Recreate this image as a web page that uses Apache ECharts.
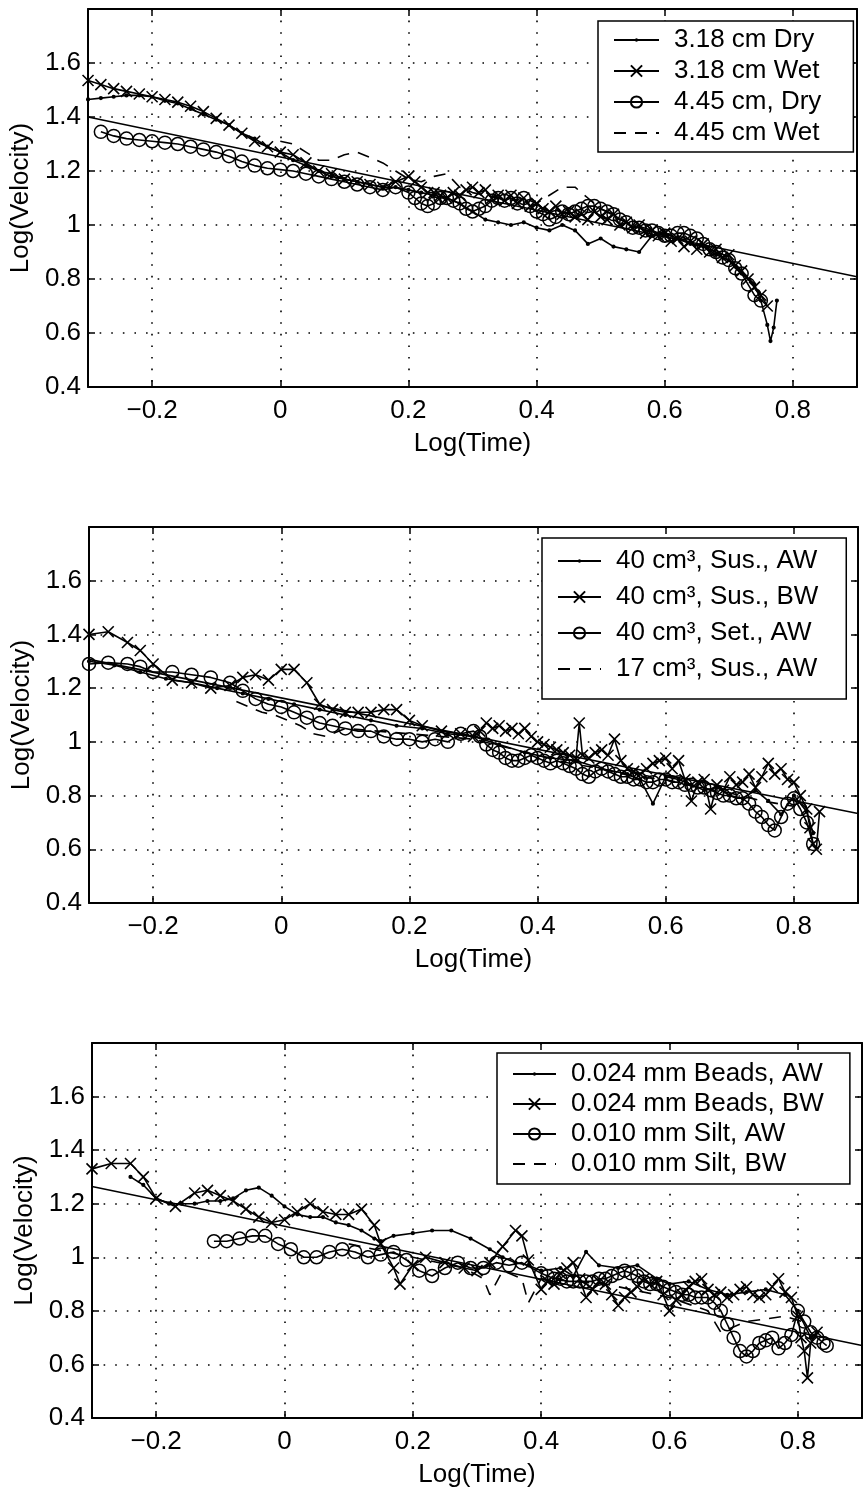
<!DOCTYPE html>
<html><head><meta charset="utf-8">
<script src="https://cdn.jsdelivr.net/npm/echarts@6/dist/echarts.min.js"></script>
<style>html,body{margin:0;padding:0;background:#fff}#c{width:865px;height:1494px}</style>
</head><body><div id="c"></div>
<script>
// ---------- tick labels ----------
const xTicks = [-0.2, 0, 0.2, 0.4, 0.6, 0.8];
const yTicks = [0.4, 0.6, 0.8, 1.0, 1.2, 1.4, 1.6];

// ---------- Panel 1 ----------
const p1Names = ['3.18 cm Dry', '3.18 cm Wet', '4.45 cm, Dry', '4.45 cm Wet'];
const p1aX = [-0.3,-0.28,-0.26,-0.24,-0.22,-0.2,-0.18,-0.16,-0.14,-0.12,-0.1,-0.08,-0.06,-0.04,-0.02,0,0.02,0.04,0.06,0.08,0.1,0.12,0.14,0.16,0.18,0.2,0.22,0.24,0.26,0.28,0.3,0.32,0.34,0.36,0.38,0.4,0.42,0.44,0.46,0.48,0.5,0.52,0.54,0.56,0.58,0.6,0.62,0.64,0.66,0.68,0.7,0.72,0.74,0.75,0.76,0.765,0.77,0.775];
const p1aY = [1.465,1.47,1.475,1.48,1.48,1.475,1.46,1.45,1.43,1.41,1.39,1.37,1.34,1.32,1.29,1.27,1.24,1.22,1.20,1.18,1.17,1.16,1.15,1.14,1.14,1.13,1.12,1.11,1.10,1.08,1.05,1.02,1.01,1.00,1.01,0.99,0.98,1.00,0.98,0.93,0.95,0.92,0.91,0.90,0.96,0.97,0.95,0.93,0.92,0.89,0.87,0.82,0.78,0.72,0.63,0.57,0.62,0.72];
const p1bX = [-0.3,-0.28,-0.26,-0.24,-0.22,-0.2,-0.18,-0.16,-0.14,-0.12,-0.1,-0.08,-0.06,-0.04,-0.02,0,0.02,0.04,0.06,0.08,0.1,0.12,0.14,0.16,0.18,
  0.2,0.21,0.22,0.23,0.24,0.25,0.26,0.27,0.28,0.29,0.3,0.31,0.32,0.33,0.34,0.35,0.36,0.37,0.38,0.39,0.4,0.41,0.42,0.43,0.44,0.45,0.46,0.47,0.48,0.49,0.5,0.51,0.52,0.53,0.54,0.55,0.56,0.57,0.58,0.59,0.6,0.61,0.62,0.63,0.64,0.65,0.66,0.67,0.68,0.69,0.7,0.71,0.72,0.73,0.74,0.75,0.76];
const p1bY = [1.535,1.52,1.505,1.495,1.485,1.475,1.465,1.455,1.44,1.42,1.395,1.37,1.34,1.31,1.29,1.27,1.26,1.23,1.20,1.19,1.17,1.16,1.15,1.14,1.16,
  1.18,1.16,1.14,1.12,1.12,1.11,1.10,1.12,1.11,1.13,1.14,1.12,1.13,1.10,1.11,1.09,1.11,1.08,1.10,1.07,1.08,1.06,1.05,1.07,1.04,1.05,1.03,1.04,1.02,1.05,1.03,1.02,1.04,1.00,1.01,0.99,1.00,0.97,0.98,0.96,0.97,0.94,0.95,0.92,0.94,0.91,0.93,0.90,0.91,0.88,0.89,0.85,0.83,0.80,0.77,0.74,0.70];
const p1cX = [-0.28,-0.26,-0.24,-0.22,-0.2,-0.18,-0.16,-0.14,-0.12,-0.1,-0.08,-0.06,-0.04,-0.02,0,0.02,0.04,0.06,0.08,0.1,0.12,0.14,0.16,0.18,
  0.2,0.21,0.22,0.23,0.24,0.25,0.26,0.27,0.28,0.29,0.3,0.31,0.32,0.33,0.34,0.35,0.36,0.37,0.38,0.39,0.4,0.41,0.42,0.43,0.44,0.45,0.46,0.47,0.48,0.49,0.5,0.51,0.52,0.53,0.54,0.55,0.56,0.57,0.58,0.59,0.6,0.61,0.62,0.63,0.64,0.65,0.66,0.67,0.68,0.69,0.7,0.71,0.72,0.73,0.74,0.75];
const p1cY = [1.345,1.33,1.32,1.315,1.31,1.305,1.30,1.29,1.28,1.27,1.255,1.235,1.22,1.21,1.205,1.20,1.19,1.18,1.17,1.16,1.15,1.14,1.13,1.14,
  1.12,1.10,1.08,1.07,1.08,1.10,1.10,1.09,1.08,1.06,1.05,1.06,1.07,1.09,1.10,1.09,1.10,1.08,1.10,1.07,1.05,1.04,1.02,1.03,1.05,1.04,1.05,1.06,1.07,1.07,1.06,1.05,1.04,1.02,1.01,0.99,0.99,0.98,0.98,0.97,0.96,0.96,0.97,0.97,0.96,0.95,0.93,0.91,0.90,0.88,0.87,0.84,0.82,0.78,0.74,0.72];
const p1dX = [0,0.02,0.04,0.06,0.08,0.1,0.12,0.14,0.16,0.18,0.2,0.22,0.24,0.26,0.28,0.3,0.32,0.34,0.36,0.38,0.4,0.42,0.44,0.46,0.48,0.5,0.54,0.58,0.62,0.66,0.7,0.74];
const p1dY = [1.31,1.30,1.27,1.24,1.24,1.26,1.27,1.25,1.23,1.20,1.17,1.16,1.18,1.19,1.14,1.12,1.11,1.10,1.09,1.10,1.08,1.11,1.14,1.14,1.10,1.06,1.01,0.98,0.96,0.93,0.88,0.78];
const p1FitX = [-0.3, 0.9];
const p1FitY = [1.40, 0.808];

// ---------- Panel 2 ----------
const p2Names = ['40 cm³, Sus., AW', '40 cm³, Sus., BW', '40 cm³, Set., AW', '17 cm³, Sus., AW'];
const p2aX = [-0.3,-0.26,-0.22,-0.18,-0.14,-0.1,-0.06,-0.02,0.02,0.06,0.1,0.14,0.18,0.22,0.26,0.3,0.34,0.38,0.42,0.46,0.5,0.54,0.56,0.58,0.6,0.62,0.64,0.66,0.68,0.7,0.72,0.74,0.76,0.78,0.8,0.82,0.83];
const p2aY = [1.30,1.285,1.26,1.235,1.22,1.20,1.18,1.16,1.14,1.12,1.10,1.08,1.06,1.05,1.03,1.02,0.99,0.96,0.94,0.93,0.90,0.88,0.86,0.77,0.87,0.86,0.84,0.82,0.83,0.80,0.79,0.82,0.78,0.73,0.80,0.74,0.66];
const p2bX = [-0.3,-0.27,-0.24,-0.22,-0.2,-0.17,-0.14,-0.11,-0.08,-0.06,-0.04,-0.02,0,0.02,0.04,0.06,0.08,0.1,0.12,0.14,0.16,0.18,0.2,0.22,0.25,0.28,
  0.3,0.31,0.32,0.33,0.34,0.35,0.36,0.37,0.38,0.39,0.4,0.41,0.42,0.43,0.44,0.45,0.46,0.465,0.47,0.48,0.49,0.5,0.51,0.52,0.53,0.54,0.55,0.56,0.57,0.58,0.59,0.6,0.61,0.62,0.63,0.64,0.65,0.66,0.67,0.68,0.69,0.7,0.71,0.72,0.73,0.74,0.75,0.76,0.77,0.78,0.79,0.8,0.81,0.82,0.825,0.83,0.835,0.84];
const p2bY = [1.40,1.41,1.37,1.34,1.29,1.23,1.22,1.20,1.21,1.24,1.25,1.23,1.27,1.27,1.22,1.14,1.12,1.11,1.11,1.11,1.12,1.12,1.08,1.06,1.04,1.03,
  1.02,1.04,1.07,1.05,1.06,1.04,1.05,1.03,1.05,1.02,1.00,0.99,0.98,0.97,0.96,0.95,0.94,1.07,0.95,0.94,0.96,0.97,0.95,1.01,0.93,0.90,0.89,0.88,0.90,0.92,0.93,0.94,0.90,0.93,0.86,0.78,0.85,0.86,0.75,0.84,0.82,0.87,0.84,0.85,0.88,0.83,0.87,0.92,0.88,0.90,0.86,0.85,0.80,0.75,0.68,0.62,0.60,0.74];
const p2cX = [-0.3,-0.27,-0.24,-0.22,-0.2,-0.17,-0.14,-0.11,-0.08,-0.06,-0.04,-0.02,0,0.02,0.04,0.06,0.08,0.1,0.12,0.14,0.16,0.18,0.2,0.22,0.24,0.26,0.28,
  0.3,0.31,0.32,0.33,0.34,0.35,0.36,0.37,0.38,0.39,0.4,0.41,0.42,0.43,0.44,0.45,0.46,0.47,0.48,0.49,0.5,0.51,0.52,0.53,0.54,0.55,0.56,0.57,0.58,0.59,0.6,0.61,0.62,0.63,0.64,0.65,0.66,0.67,0.68,0.69,0.7,0.71,0.72,0.73,0.74,0.75,0.76,0.77,0.78,0.79,0.8,0.81,0.82,0.83];
const p2cY = [1.29,1.295,1.29,1.28,1.26,1.26,1.25,1.24,1.22,1.19,1.16,1.14,1.13,1.11,1.09,1.07,1.06,1.05,1.04,1.04,1.02,1.01,1.01,1.00,1.01,1.00,1.03,
  1.04,1.02,0.99,0.97,0.96,0.94,0.93,0.93,0.94,0.95,0.94,0.93,0.92,0.93,0.92,0.91,0.90,0.88,0.87,0.89,0.90,0.89,0.88,0.87,0.87,0.86,0.86,0.85,0.85,0.86,0.86,0.85,0.85,0.84,0.84,0.83,0.83,0.82,0.81,0.80,0.80,0.79,0.79,0.77,0.74,0.72,0.69,0.67,0.72,0.77,0.79,0.75,0.70,0.62];
const p2dX = [-0.07,-0.05,-0.03,-0.01,0.01,0.03,0.05,0.07,0.1,0.15,0.2,0.25,0.3,0.35,0.4,0.45,0.5,0.55,0.6,0.65,0.7,0.75,0.8];
const p2dY = [1.15,1.13,1.11,1.10,1.08,1.06,1.03,1.02,1.05,1.04,1.03,1.02,1.01,0.98,0.95,0.92,0.90,0.87,0.86,0.83,0.81,0.78,0.76];
const p2FitX = [-0.3, 0.9];
const p2FitY = [1.307, 0.733];

// ---------- Panel 3 ----------
const p3Names = ['0.024 mm Beads, AW', '0.024 mm Beads, BW', '0.010 mm Silt, AW', '0.010 mm Silt, BW'];
const p3aX = [-0.24,-0.22,-0.2,-0.18,-0.16,-0.14,-0.12,-0.1,-0.08,-0.06,-0.04,-0.02,0,0.02,0.04,0.06,0.08,0.1,0.12,0.14,0.15,0.17,0.2,0.23,0.26,0.29,0.32,0.34,0.36,0.38,0.4,0.43,0.45,0.47,0.49,0.52,0.55,0.58,0.6,0.63,0.66,0.69,0.72,0.75,0.78,0.8,0.82,0.83];
const p3aY = [1.30,1.27,1.22,1.20,1.20,1.20,1.21,1.21,1.22,1.25,1.26,1.23,1.19,1.16,1.15,1.15,1.13,1.12,1.10,1.07,1.06,1.08,1.09,1.10,1.10,1.07,1.03,1.00,0.98,0.97,0.95,0.96,0.93,1.02,0.97,0.96,0.97,0.92,0.90,0.91,0.88,0.86,0.87,0.88,0.86,0.80,0.70,0.72];
const p3bX = [-0.3,-0.27,-0.24,-0.22,-0.2,-0.17,-0.14,-0.12,-0.1,-0.08,-0.06,-0.04,-0.02,0,0.02,0.04,0.06,0.08,0.1,0.12,0.14,0.15,0.17,0.18,0.2,0.22,0.25,0.28,0.3,0.32,0.34,0.36,0.37,0.38,
  0.4,0.41,0.42,0.43,0.44,0.45,0.46,0.47,0.48,0.49,0.5,0.51,0.52,0.53,0.54,0.55,0.56,0.57,0.58,0.59,0.6,0.61,0.62,0.63,0.64,0.65,0.66,0.67,0.68,0.69,0.7,0.71,0.72,0.73,0.74,0.75,0.76,0.77,0.78,0.79,0.8,0.805,0.81,0.815,0.82,0.83];
const p3bY = [1.33,1.35,1.35,1.30,1.22,1.19,1.24,1.25,1.23,1.21,1.18,1.15,1.13,1.14,1.17,1.20,1.17,1.16,1.16,1.18,1.12,1.05,0.96,0.90,0.97,1.00,0.98,0.96,0.95,0.98,1.04,1.10,1.08,0.99,
  0.88,0.91,0.90,0.94,0.96,0.98,0.92,0.85,0.88,0.91,0.90,0.86,0.82,0.85,0.87,0.89,0.92,0.90,0.91,0.86,0.80,0.84,0.86,0.89,0.91,0.92,0.88,0.86,0.87,0.85,0.86,0.88,0.89,0.86,0.85,0.86,0.89,0.92,0.87,0.85,0.78,0.70,0.65,0.55,0.68,0.72];
const p3cX = [-0.11,-0.09,-0.07,-0.05,-0.03,-0.01,0.01,0.03,0.05,0.07,0.09,0.11,0.13,0.15,0.17,0.19,0.21,0.23,0.25,0.27,0.29,0.31,0.33,0.35,0.37,
  0.4,0.41,0.42,0.43,0.44,0.45,0.46,0.47,0.48,0.49,0.5,0.51,0.52,0.53,0.54,0.55,0.56,0.57,0.58,0.59,0.6,0.61,0.62,0.63,0.64,0.65,0.66,0.67,0.68,0.69,0.7,0.71,0.72,0.73,0.74,0.75,0.76,0.77,0.78,0.79,0.8,0.81,0.82,0.83,0.84,0.845];
const p3cY = [1.06,1.06,1.07,1.08,1.08,1.05,1.03,1.00,1.00,1.02,1.03,1.02,1.00,1.01,1.02,0.99,0.95,0.93,0.96,0.98,0.96,0.96,0.98,0.97,0.98,
  0.94,0.93,0.92,0.92,0.91,0.91,0.91,0.91,0.91,0.92,0.92,0.93,0.94,0.95,0.94,0.93,0.91,0.90,0.90,0.89,0.88,0.87,0.86,0.86,0.85,0.85,0.85,0.83,0.80,0.75,0.70,0.65,0.63,0.65,0.68,0.69,0.70,0.66,0.68,0.71,0.80,0.76,0.72,0.70,0.68,0.67];
const p3dX = [0.1,0.2,0.28,0.31,0.32,0.34,0.37,0.38,0.4,0.5,0.6,0.66,0.68,0.72,0.78,0.82];
const p3dY = [1.05,1.00,0.96,0.92,0.86,0.95,0.92,0.83,0.92,0.90,0.85,0.80,0.72,0.76,0.78,0.75];
const p3FitX = [-0.3, 0.9];
const p3FitY = [1.264, 0.671];

// ---------- build ----------
const FONT = 'Liberation Sans, Arial, Helvetica, sans-serif';
const FS = 26;
const pts = (xs, ys) => xs.map((x, i) => [x, ys[i]]);
const xFmt = v => (v < 0 ? '\u2212' + String(Math.abs(v)) : String(v));
const yFmt = v => String(Math.round(v * 10) / 10);
const gridLine = { show: true, lineStyle: { color: '#000', width: 1.6, type: [1.6, 10] } };
const axLine = { show: true, onZero: false, lineStyle: { color: '#000', width: 2 } };
const tick = { show: true, inside: true, length: 7, lineStyle: { color: '#000', width: 1.5 } };

const grids = [
  { left: 88, top: 9, width: 769, height: 378 },
  { left: 89, top: 527, width: 769, height: 376 },
  { left: 92, top: 1043, width: 770, height: 375 }
];
const xAxes = [], yAxes = [];
grids.forEach((g, gi) => {
  xAxes.push({ type: 'value', gridIndex: gi, position: 'bottom', min: -0.3, max: 0.9,
    axisLine: axLine, axisTick: Object.assign({ customValues: xTicks }, tick),
    axisLabel: { customValues: xTicks, formatter: xFmt, fontSize: FS, fontFamily: FONT, color: '#000', margin: 11 },
    splitLine: gridLine,
    name: 'Log(Time)', nameLocation: 'middle', nameGap: 44,
    nameTextStyle: { fontSize: FS, fontFamily: FONT, color: '#000' } });
  xAxes.push({ type: 'value', gridIndex: gi, position: 'top', min: -0.3, max: 0.9,
    axisLine: axLine, axisTick: Object.assign({ customValues: xTicks }, tick),
    axisLabel: { show: false }, splitLine: { show: false } });
  yAxes.push({ type: 'value', gridIndex: gi, position: 'left', min: 0.4, max: 1.8, interval: 0.2,
    axisLine: axLine, axisTick: tick,
    axisLabel: { formatter: yFmt, showMaxLabel: false, fontSize: FS, fontFamily: FONT, color: '#000', margin: 7 },
    splitLine: gridLine,
    name: 'Log(Velocity)', nameLocation: 'middle', nameGap: 52,
    nameTextStyle: { fontSize: FS, fontFamily: FONT, color: '#000' } });
  yAxes.push({ type: 'value', gridIndex: gi, position: 'right', min: 0.4, max: 1.8, interval: 0.2,
    axisLine: axLine, axisTick: tick, axisLabel: { show: false }, splitLine: { show: false } });
});

const XSYM = 'path://M0,0L10,10M10,0L0,10';
// small filled dot inside an invisible 10x10 box, so the legend icon stays small
const DOTSYM = 'path://M0,0L0.01,0M10,10L10.01,10M3.5,5A1.5,1.5,0,1,0,6.5,5A1.5,1.5,0,1,0,3.5,5Z';
function mk(name, gi, xs, ys, kind) {
  const s = { type: 'line', name: name, xAxisIndex: gi * 2, yAxisIndex: gi * 2,
    data: pts(xs, ys), animation: false, z: 2,
    lineStyle: { color: '#000', width: 1.6 }, emphasis: { disabled: true } };
  if (kind === 'dot') {
    s.symbol = DOTSYM; s.symbolSize = 14;
    s.itemStyle = { color: '#000', borderWidth: 0 };
  } else if (kind === 'x') {
    s.symbol = XSYM; s.symbolSize = 11;
    s.itemStyle = { color: '#000', borderColor: '#000', borderWidth: 1.6 };
  } else if (kind === 'o') {
    s.symbol = 'circle'; s.symbolSize = 13;
    s.itemStyle = { color: 'rgba(0,0,0,0)', borderColor: '#000', borderWidth: 1.5 };
  } else if (kind === 'dash') {
    s.symbol = 'circle'; s.showSymbol = false; s.symbolSize = 0;
    s.itemStyle = { color: 'rgba(0,0,0,0)', borderWidth: 0 };
    s.lineStyle = { color: '#000', width: 1.6, type: [12, 9] };
  } else if (kind === 'fit') {
    s.symbol = 'none'; s.showSymbol = false; s.z = 3;
    s.itemStyle = { color: '#000' };
    s.lineStyle = { color: '#000', width: 1.6 };
  }
  return s;
}

const series = [
  mk(p1Names[0], 0, p1aX, p1aY, 'dot'),
  mk(p1Names[1], 0, p1bX, p1bY, 'x'),
  mk(p1Names[2], 0, p1cX, p1cY, 'o'),
  mk(p1Names[3], 0, p1dX, p1dY, 'dash'),
  mk('fit1', 0, p1FitX, p1FitY, 'fit'),
  mk(p2Names[0], 1, p2aX, p2aY, 'dot'),
  mk(p2Names[1], 1, p2bX, p2bY, 'x'),
  mk(p2Names[2], 1, p2cX, p2cY, 'o'),
  mk(p2Names[3], 1, p2dX, p2dY, 'dash'),
  mk('fit2', 1, p2FitX, p2FitY, 'fit'),
  mk(p3Names[0], 2, p3aX, p3aY, 'dot'),
  mk(p3Names[1], 2, p3bX, p3bY, 'x'),
  mk(p3Names[2], 2, p3cX, p3cY, 'o'),
  mk(p3Names[3], 2, p3dX, p3dY, 'dash'),
  mk('fit3', 2, p3FitX, p3FitY, 'fit')
];

function legend(names, left, top, iw, padding, gap) {
  return { data: names, orient: 'vertical', left: left, top: top, itemWidth: iw, itemHeight: 14,
    itemGap: gap, padding: padding, backgroundColor: '#fff', borderColor: '#000', borderWidth: 1.5,
    borderRadius: 0, selectedMode: false, z: 10,
    textStyle: { fontSize: FS, fontFamily: FONT, color: '#000', padding: [0, 0, 0, 10] } };
}

const chart = echarts.init(document.getElementById('c'), null, { renderer: 'canvas' });
chart.setOption({
  animation: false,
  backgroundColor: '#fff',
  grid: grids,
  xAxis: xAxes,
  yAxis: yAxes,
  legend: [
    legend(p1Names, 598, 21, 45, [6, 32, 6, 15], 5),
    legend(p2Names, 542, 538, 43, [10, 28, 17, 15], 10),
    legend(p3Names, 497, 1053, 43, [8, 26, 7, 15], 4)
  ],
  series: series
});
</script>
</body></html>
